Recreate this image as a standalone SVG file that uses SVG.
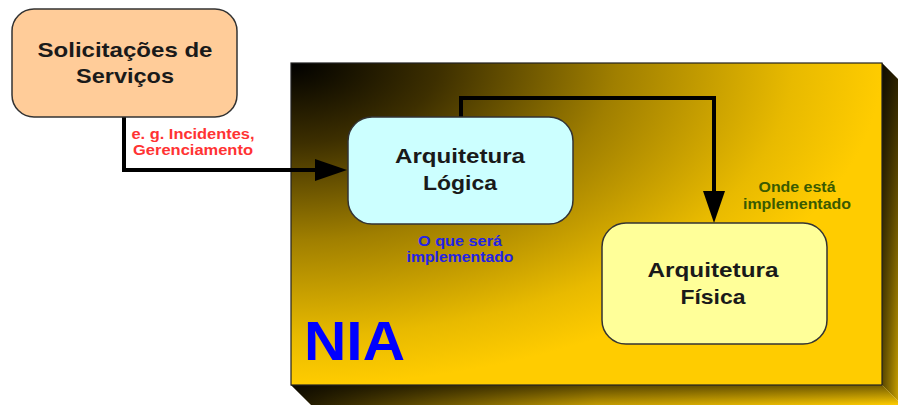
<svg xmlns="http://www.w3.org/2000/svg" width="898" height="406" viewBox="0 0 898 406">
  <defs>
    <radialGradient id="frontFill" cx="0" cy="0" r="1" fx="0" fy="0">
      <stop offset="0" stop-color="#000000"/>
      <stop offset="0.25" stop-color="#3d2f00"/>
      <stop offset="0.55" stop-color="#a07f00"/>
      <stop offset="0.85" stop-color="#e8ba00"/>
      <stop offset="1" stop-color="#ffcc00"/>
    </radialGradient>
    <linearGradient id="sideFill" x1="0" y1="0" x2="0" y2="1">
      <stop offset="0" stop-color="#2a2000"/>
      <stop offset="0.35" stop-color="#6a5300"/>
      <stop offset="1" stop-color="#e6b800"/>
    </linearGradient>
    <linearGradient id="sideShade" x1="0" y1="0" x2="1" y2="0">
      <stop offset="0" stop-color="#000" stop-opacity="0.6"/>
      <stop offset="1" stop-color="#000" stop-opacity="0"/>
    </linearGradient>
    <linearGradient id="baseFill" x1="0" y1="0" x2="1" y2="0">
      <stop offset="0" stop-color="#1a1400"/>
      <stop offset="0.5" stop-color="#c09800"/>
      <stop offset="1" stop-color="#ffcc00"/>
    </linearGradient>
    <linearGradient id="baseShade" x1="0" y1="0" x2="0" y2="1">
      <stop offset="0" stop-color="#000" stop-opacity="0.55"/>
      <stop offset="1" stop-color="#000" stop-opacity="0"/>
    </linearGradient>
    <marker id="arrow" viewBox="0 0 32 22" refX="2" refY="11" markerWidth="32" markerHeight="22" markerUnits="userSpaceOnUse" orient="auto">
      <path d="M0,0 L32,11 L0,22 z" fill="#000"/>
    </marker>
    <style>
      .box { stroke: #333; stroke-width: 1.5; }
      .title { font-family: "Liberation Sans", Arial, sans-serif; font-weight: bold; font-size: 21px; fill: #1a1a1a; text-anchor: middle; }
      .note { font-family: "Liberation Sans", Arial, sans-serif; font-weight: bold; font-size: 14px; text-anchor: middle; }
      .link { fill: none; stroke: #000; stroke-width: 4; stroke-linejoin: miter; marker-end: url(#arrow); }
    </style>
  </defs>

  <!-- NIA block drawn as a slab: front face plus right and bottom faces -->
  <g id="nia">
    <polygon points="882,63 902,83 902,405 882,385" fill="url(#sideFill)"/>
    <polygon points="882,63 902,83 902,405 882,385" fill="url(#sideShade)"/>
    <polygon points="291,385 882,385 902,405 311,405" fill="url(#baseFill)"/>
    <polygon points="291,385 882,385 902,405 311,405" fill="url(#baseShade)"/>
    <rect x="291" y="63" width="591" height="322" fill="url(#frontFill)" stroke="#222" stroke-width="1.2"/>
    <text x="304" y="360" font-family="'Liberation Sans', Arial, sans-serif" font-weight="bold" font-size="56" fill="#0000ff" textLength="101" lengthAdjust="spacingAndGlyphs">NIA</text>
  </g>

  <g id="connectors">
    <path class="link" d="M124,117 V170 H317"/>
    <path class="link" d="M461,117 V98 H714 V193"/>
    <g class="note" fill="#ff3333">
      <text x="193" y="139" textLength="123" lengthAdjust="spacingAndGlyphs">e. g. Incidentes,</text>
      <text x="193" y="155" textLength="120" lengthAdjust="spacingAndGlyphs">Gerenciamento</text>
    </g>
    <g class="note" fill="#2323e6">
      <text x="460" y="246" textLength="84" lengthAdjust="spacingAndGlyphs">O que será</text>
      <text x="460" y="262" textLength="107" lengthAdjust="spacingAndGlyphs">implementado</text>
    </g>
    <g class="note" fill="#3a5a00">
      <text x="797" y="192" textLength="77" lengthAdjust="spacingAndGlyphs">Onde está</text>
      <text x="797" y="209" textLength="108" lengthAdjust="spacingAndGlyphs">implementado</text>
    </g>
  </g>

  <g id="solicitacoes">
    <rect class="box" x="12" y="9" width="225" height="108" rx="22" fill="#ffcc99"/>
    <text class="title" x="125" y="57" textLength="175" lengthAdjust="spacingAndGlyphs">Solicitações de</text>
    <text class="title" x="125" y="83" textLength="98" lengthAdjust="spacingAndGlyphs">Serviços</text>
  </g>

  <g id="arquitetura-logica">
    <rect class="box" x="348" y="117" width="225" height="107" rx="24" fill="#ccffff"/>
    <text class="title" x="460" y="163" textLength="130" lengthAdjust="spacingAndGlyphs">Arquitetura</text>
    <text class="title" x="460" y="190" textLength="74" lengthAdjust="spacingAndGlyphs">Lógica</text>
  </g>

  <g id="arquitetura-fisica">
    <rect class="box" x="602" y="223" width="225" height="121" rx="24" fill="#ffff99"/>
    <text class="title" x="713" y="277" textLength="131" lengthAdjust="spacingAndGlyphs">Arquitetura</text>
    <text class="title" x="713" y="304" textLength="65" lengthAdjust="spacingAndGlyphs">Física</text>
  </g>
</svg>
